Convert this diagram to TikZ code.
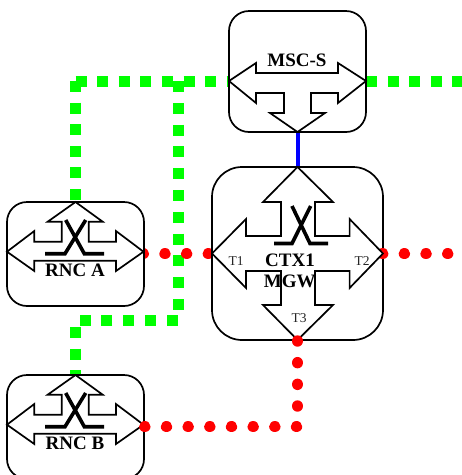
\documentclass[tikz,border=0pt]{standalone}
\usepackage{fontspec}
\setmainfont{Liberation Serif}
\tikzset{
  x=1pt,y=-1pt,
  devbox/.style={draw=black,fill=white,line width=1.7pt,rounded corners=#1,inner sep=0pt,outer sep=0pt},
  symbolshape/.style={draw=black,fill=white,line width=1.7pt,line join=miter},
  crossline/.style={draw=black,line width=3.6pt,line join=miter},
  biglabel/.style={font=\fontsize{19}{20}\bfseries\selectfont,inner sep=0pt,text=black},
  portlabel/.style={font=\fontsize{13.5}{14}\selectfont,inner sep=0pt,text=black!85},
  greenlink/.style={draw=green,line width=11pt,line cap=butt,dash pattern=on 11pt off 10.6pt},
  greenlong/.style={draw=green,line width=11pt,line cap=butt,dash pattern=on 11pt off 10.8pt},
  redlink/.style={draw=red,line width=11.4pt,line cap=round,dash pattern=on 0.01pt off 21.66pt},
  bluelink/.style={draw=blue,line width=4pt}
}
\newcommand{\rncsymbol}[1]{%
  \begin{scope}[yshift=#1]
    \draw[symbolshape] (75.5,202)--(102.7,221.7)--(88.7,221.7)--(88.7,241.7)--(116,241.7)--(116,231)--(143.5,251.7)--(116,271)--(116,260.7)--(34.3,260.7)--(34.3,271)--(7,251.7)--(34.3,231)--(34.3,241.7)--(61.7,241.7)--(61.7,221.7)--(47.7,221.7)--cycle;
    \draw[crossline] (45,253.7)--(65,253.7)--(85.7,220);
    \draw[crossline] (104,253.7)--(84.3,253.7)--(65.7,220);
  \end{scope}}
\begin{document}
\begin{tikzpicture}
\useasboundingbox (0,0) rectangle (462,475);
\clip (0,0) rectangle (462,475);
% ports and bends
\coordinate (g1) at (75.5,81);
\coordinate (g2) at (178.5,81);
\coordinate (g3) at (178.5,320);
\coordinate (g4) at (75.5,320);
\coordinate (gend) at (462,81);
\coordinate (rA) at (143.3,253.7);
\coordinate (rT1) at (212,253.7);
\coordinate (rT2) at (382.7,253.7);
\coordinate (rend) at (462,253.7);
\coordinate (rT3) at (297.5,341);
\coordinate (rbend) at (297.5,426.7);
\coordinate (rB) at (143.3,426.7);
\coordinate (mscN) at (297.5,132);
\coordinate (ctxN) at (297.5,167);
\coordinate (mscW) at (229,81);
\coordinate (mscE) at (366,81);
\coordinate (rncAN) at (75.5,202);
\coordinate (rncBN) at (75.5,375);
% links under the boxes
\draw[greenlink] (g1)--(rncAN);
\draw[greenlink] (g1)--(mscW);
\draw[greenlong] (g2)--(g3)--(g4)--(rncBN);
\draw[greenlink] (mscE)--(gend);
\draw[redlink] (rA)--(rT1);
\draw[bluelink] (mscN)--(ctxN);
% boxes
\node[devbox=20pt,minimum width=137pt,minimum height=121pt] (msc) at (297.5,71.5) {};
\node[devbox=20pt,minimum width=137pt,minimum height=104pt] (rncA) at (75.5,254) {};
\node[devbox=20pt,minimum width=137pt,minimum height=104pt] (rncB) at (75.5,427) {};
\node[devbox=30pt,minimum width=171pt,minimum height=173pt] (ctx) at (297.5,253.5) {};
\draw[redlink] (rT2)--(rend);
% MSC-S symbol
\draw[symbolshape] (229,81)--(256,63)--(256,73)--(338,73)--(338,63)--(366,81)--(338,103)--(338,93)--(311,93)--(311,113)--(325,113)--(297.5,132)--(270,113)--(284,113)--(284,93)--(256,93)--(256,103)--cycle;
% RNC symbols
\rncsymbol{0pt}
\rncsymbol{-173pt}
% CTX1 symbol
\draw[symbolshape] (297.5,167)--(333,202)--(315,202)--(315,236)--(349.6,236)--(349.6,219)--(383,253.5)--(349.6,288)--(349.6,271)--(315,271)--(315,305)--(333,305)--(297.5,340)--(263,305)--(281,305)--(281,271)--(246,271)--(246,288)--(212,253.5)--(246,219)--(246,236)--(281,236)--(281,202)--(263,202)--cycle;
\draw[crossline] (274,243.5)--(292,243.5)--(310.7,206);
\draw[crossline] (328,243.5)--(310,243.5)--(292,206);
% on top
\draw[redlink] (rT3)--(rbend)--(rB);
% labels
\node[biglabel] (lmsc) at (297,60) {MSC-S};
\node[biglabel] (lrnca) at (75,270) {RNC A};
\node[biglabel] (lrncb) at (75,443) {RNC B};
\node[biglabel] (lctx) at (290,260) {CTX1};
\node[biglabel] (lmgw) at (289.7,281) {MGW};
\node[portlabel] (lt1) at (236,261) {T1};
\node[portlabel] (lt2) at (362,261) {T2};
\node[portlabel] (lt3) at (299,318) {T3};
\end{tikzpicture}
\end{document}
